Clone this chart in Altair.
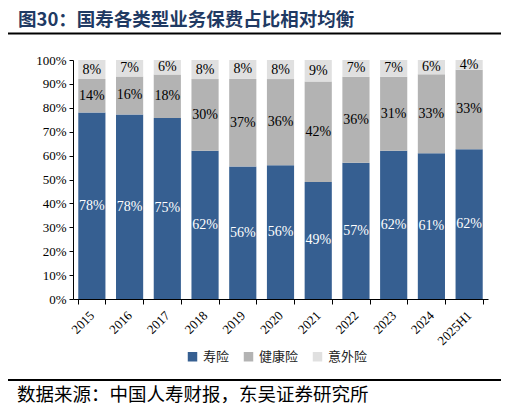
import altair as alt
import pandas as pd

years = ["2015", "2016", "2017", "2018", "2019", "2020", "2021", "2022", "2023", "2024", "2025H1"]
life = [78, 78, 75, 62, 56, 56, 49, 57, 62, 61, 62]
health = [14, 16, 18, 30, 37, 36, 42, 36, 31, 33, 33]
accident = [8, 7, 6, 8, 8, 8, 9, 7, 7, 6, 4]
kinds = ["寿险", "健康险", "意外险"]
colors = ["#365F91", "#B3B3B3", "#E0E0E0"]
y_ticks = [0, 0.1, 0.2, 0.3, 0.4, 0.5, 0.6, 0.7, 0.8, 0.9, 1.0]

title_text = "图30：国寿各类型业务保费占比相对均衡"
source_text = "数据来源：中国人寿财报，东吴证券研究所"

# stack each year as shares of its total
rows = []
for i, yr in enumerate(years):
    vals = [life[i], health[i], accident[i]]
    total = sum(vals)
    base = 0.0
    for k, v in enumerate(vals):
        share = v / total
        rows.append({
            "year": yr, "kind": kinds[k], "idx": k,
            "y0": base, "y1": base + share, "mid": base + share / 2,
            "label": f"{v}%",
        })
        base += share
df = pd.DataFrame(rows)

x_scale = alt.Scale(paddingInner=0.28, paddingOuter=0.14)
y_scale = alt.Scale(domain=[0, 1], nice=False)
x_axis = alt.Axis(
    title=None, labelAngle=-45, labelAlign="right", labelBaseline="middle",
    labelFont="Liberation Serif", labelFontSize=13, labelColor="black",
    tickBand="extent", tickSize=5, tickColor="black",
    domainColor="black", labelPadding=9, labelOverlap=False,
)
y_axis = alt.Axis(
    title=None, format=".0%", values=y_ticks, grid=False,
    labelFont="Liberation Serif", labelFontSize=13, labelColor="black",
    tickSize=4, tickColor="black", domainColor="black", labelPadding=3,
    labelOverlap=False, labelFlush=False,
)

bars = alt.Chart(df).mark_bar().encode(
    x=alt.X("year:N", sort=years, scale=x_scale, axis=x_axis),
    y=alt.Y("y0:Q", scale=y_scale, axis=y_axis),
    y2="y1:Q",
    color=alt.Color(
        "kind:N", scale=alt.Scale(domain=kinds, range=colors),
        legend=alt.Legend(
            title=None, orient="none", legendX=113, legendY=290,
            direction="horizontal", symbolType="square", symbolSize=90,
            symbolStrokeWidth=0, labelFont="Noto Sans CJK SC", labelFontSize=13,
            labelColor="#222222", columnPadding=12,
        ),
    ),
)

labels_white = alt.Chart(df).transform_filter("datum.idx == 0").mark_text(
    font="Liberation Serif", fontSize=14, color="white"
).encode(
    x=alt.X("year:N", sort=years, scale=x_scale, axis=x_axis),
    y=alt.Y("mid:Q", scale=y_scale, axis=y_axis),
    text="label:N",
)

labels_black = alt.Chart(df).transform_filter("datum.idx > 0").mark_text(
    font="Liberation Serif", fontSize=14, color="black"
).encode(
    x=alt.X("year:N", sort=years, scale=x_scale, axis=x_axis),
    y=alt.Y("mid:Q", scale=y_scale, axis=y_axis),
    text="label:N",
)

one = pd.DataFrame({"title": [title_text], "source": [source_text]})

title = alt.Chart(one).mark_text(
    font="Noto Sans CJK SC", fontWeight="bold", fontSize=18.5,
    color="#1F3A63", align="left", baseline="middle",
).encode(x=alt.value(-55), y=alt.value(-40), text="title:N")

source = alt.Chart(one).mark_text(
    font="Noto Sans CJK SC", fontSize=18.5, color="black",
    align="left", baseline="middle",
).encode(x=alt.value(-56), y=alt.value(335), text="source:N")

top_rule = alt.Chart(one).mark_rule(color="black", strokeWidth=2).encode(
    x=alt.value(-65), x2=alt.value(428), y=alt.value(-26.5)
)
bottom_rule = alt.Chart(one).mark_rule(color="black", strokeWidth=2).encode(
    x=alt.value(-65), x2=alt.value(428), y=alt.value(320)
)

chart = alt.layer(
    bars, labels_white, labels_black, title, source, top_rule, bottom_rule
).properties(
    width=415, height=239,
    autosize=alt.AutoSizeParams(type="none"),
    padding={"left": 65, "top": 52, "right": 13, "bottom": 106},
).configure_view(stroke=None)

chart.save("out.html", embed_options={"renderer": "svg", "actions": False})
